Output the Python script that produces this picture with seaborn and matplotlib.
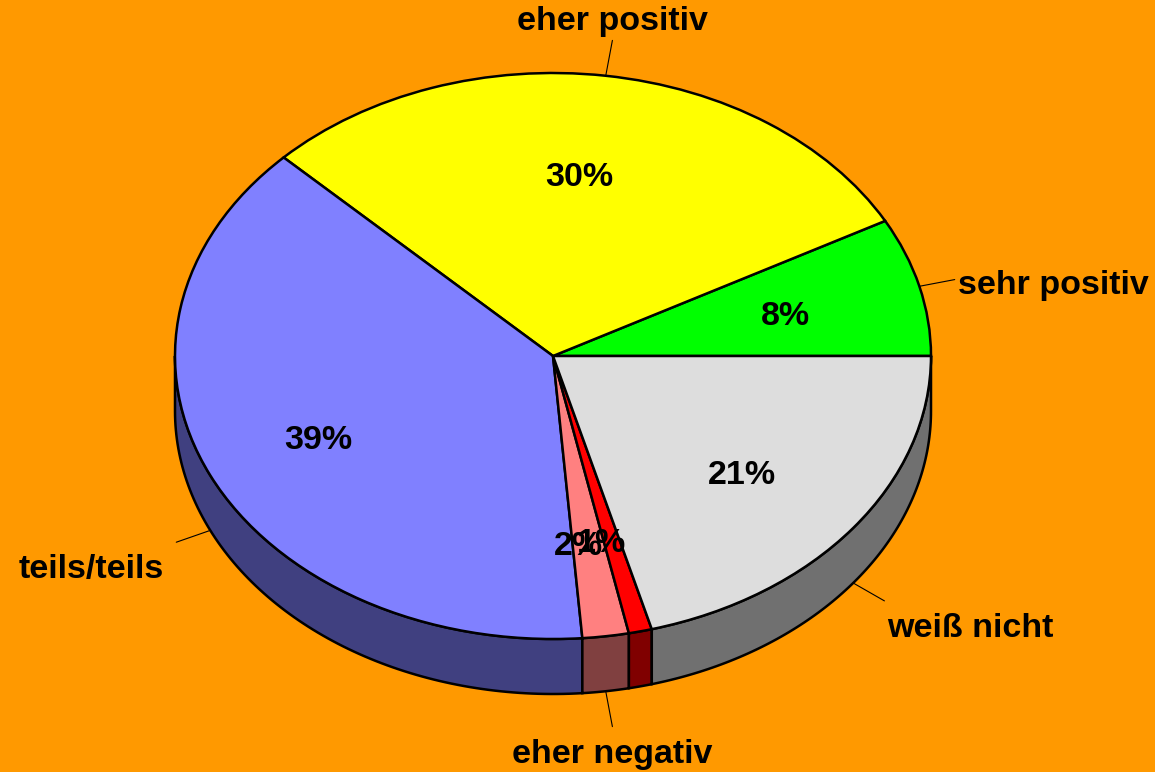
import numpy as np
import matplotlib
matplotlib.use("Agg")
import matplotlib.pyplot as plt
import seaborn as sns

# Daten (Anteile in %)
categories = ["sehr positiv", "eher positiv", "teils/teils", "eher negativ", "sehr negativ", "weiß nicht"]
values = [8, 30, 39, 2, 1, 21]
# Beschriftung aussen (die 1% Scheibe hat keine)
outer_labels = ["sehr positiv", "eher positiv", "teils/teils", "eher negativ", "", "weiß nicht"]
top_colors = ["#00FF00", "#FFFF00", "#8080FF", "#FF8080", "#FF0000", "#DDDDDD"]
side_colors = ["#008000", "#808000", "#404080", "#804040", "#800000", "#707070"]

sns.set_style("white")
plt.rcParams["font.family"] = ["Liberation Sans", "DejaVu Sans"]
plt.rcParams["font.weight"] = "bold"
plt.rcParams["text.color"] = "black"

bg = "#FF9900"
W, H = 1155, 772
cx, cy = 553, 356      # Mittelpunkt in Pixel (von oben)
rx, ry = 378, 283      # Halbachsen in Pixel
depth = 55 / ry        # Tiefe in Dateneinheiten
lw = 1.8

fig = plt.figure(figsize=(W / 100, H / 100), dpi=100, facecolor=bg)
ax = fig.add_axes([0, 0, 1, 1])
ax.set_facecolor(bg)

# Winkel der Scheiben
frac = np.array(values) / np.sum(values)
bounds = np.concatenate([[0], np.cumsum(frac)]) * 360

# Seitenwände (nur vordere Hälfte sichtbar)
for i in range(len(values)):
    a1 = max(bounds[i], 180)
    a2 = min(bounds[i + 1], 360)
    if a2 <= a1:
        continue
    t = np.radians(np.linspace(a1, a2, 100))
    xs = np.concatenate([np.cos(t), np.cos(t[::-1])])
    ys = np.concatenate([np.sin(t), np.sin(t[::-1]) - depth])
    ax.fill(xs, ys, facecolor=side_colors[i], edgecolor="black", linewidth=lw, zorder=0.5)

# Deckfläche
wedges, texts, autotexts = ax.pie(
    values, colors=top_colors, startangle=0, counterclock=True,
    autopct=lambda p: f"{p * np.sum(values) / 100:.0f}%", pctdistance=0.66,
    wedgeprops=dict(edgecolor="black", linewidth=lw),
    textprops=dict(fontsize=24.5, fontweight="bold", color="black"),
)
for w in wedges:
    w.set_zorder(1)
for t in autotexts:
    x, y = t.get_position()
    t.set_position((x - 9 / rx, y - 6 / ry))
    t.set_zorder(3)

# Aussenbeschriftungen mit Führungslinien (feste Länge in Pixel)
lead = 36
for i, lab in enumerate(outer_labels):
    if not lab:
        continue
    m = np.radians((bounds[i] + bounds[i + 1]) / 2)
    c, s = np.cos(m), np.sin(m)
    off = depth if s < 0 else 0
    x0, y0 = c, s - off
    px, py = c * rx, s * ry
    n = np.hypot(px, py)
    x1 = x0 + lead * px / n / rx
    y1 = y0 + lead * py / n / ry
    ax.plot([x0, x1], [y0, y1], color="black", linewidth=0.8, zorder=2)
    ha = "left" if c > 0.3 else ("right" if c < -0.3 else "center")
    va = "bottom" if s > 0.5 else ("top" if s < -0.3 else "center")
    dx = {"left": 3, "right": -12, "center": 0}[ha] / rx
    dy = {"bottom": 3, "top": -12, "center": -6}[va] / ry
    ax.text(x1 + dx, y1 + dy, lab, ha=ha, va=va, fontsize=24.5,
            fontweight="bold", color="black", zorder=3)

ax.set_aspect("auto")
ax.set_xlim(-cx / rx, (W - cx) / rx)
ax.set_ylim(-(H - cy) / ry, cy / ry)
ax.axis("off")

fig.savefig("out.png", dpi=100, facecolor=bg)
